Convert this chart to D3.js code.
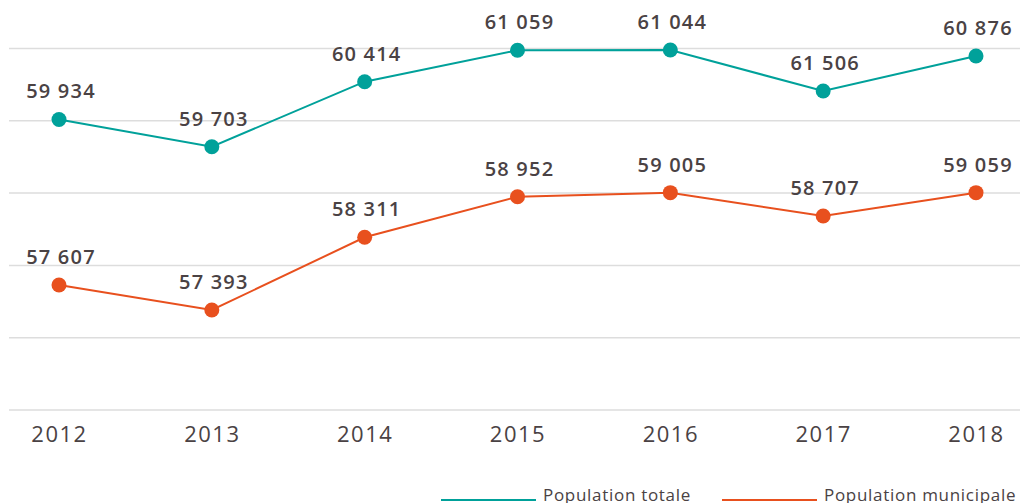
<!DOCTYPE html>
<html>
<head>
<meta charset="utf-8">
<script src="https://cdn.jsdelivr.net/npm/d3@7"></script>
<style>
  body { margin: 0; background: #fff; }
  svg { display: block; }
  text { font-family: "Open Sans", sans-serif; fill: #4a4244; }
</style>
</head>
<body>
<div id="chart"></div>
<script>
// data
var years = ["2012", "2013", "2014", "2015", "2016", "2017", "2018"];
var totalLabels = ["59 934", "59 703", "60 414", "61 059", "61 044", "61 506", "60 876"];
var municipalLabels = ["57 607", "57 393", "58 311", "58 952", "59 005", "58 707", "59 059"];
// plotted levels as drawn in the picture (grid lines every 1000)
var totalPlot = [59018, 58642, 59541, 59975, 59979, 59412, 59896];
var municipalPlot = [56729, 56383, 57389, 57950, 58006, 57683, 58006];
var gridTicks = [55000, 56000, 57000, 58000, 59000, 60000];
var seriesNames = ["Population totale", "Population municipale"];
var colors = ["#00a19a", "#e8501e"];

var width = 1025, height = 503;

var svg = d3.select("#chart")
  .append("svg")
    .attr("width", width)
    .attr("height", height);

var x = d3.scalePoint()
    .domain(years)
    .range([59, 976]);

var y = d3.scaleLinear()
    .domain([55000, 60000])
    .range([410, 48.5]);

// grid
svg.append("g")
  .selectAll("line")
  .data(gridTicks)
  .enter()
  .append("line")
    .attr("x1", 9)
    .attr("x2", 1020)
    .attr("y1", d => y(d))
    .attr("y2", d => y(d))
    .attr("stroke", "#dddddd")
    .attr("stroke-width", 1.5);

// x axis labels
var xAxis = svg.append("g")
    .attr("transform", "translate(0,410)")
    .call(d3.axisBottom(x).tickSize(0).tickPadding(16));
xAxis.select(".domain").remove();
xAxis.selectAll("text")
    .attr("font-family", "Open Sans, sans-serif")
    .attr("font-size", "22px")
    .style("letter-spacing", "1.5px")
    .attr("fill", "#4a4244");

var series = [
  {plot: totalPlot, labels: totalLabels, color: colors[0]},
  {plot: municipalPlot, labels: municipalLabels, color: colors[1]}
];

var line = d3.line()
    .x(d => x(d.year))
    .y(d => y(d.v));

series.forEach(function(s) {
  var pts = years.map((yr, i) => ({year: yr, v: s.plot[i], label: s.labels[i]}));

  svg.append("path")
    .datum(pts)
    .attr("d", line)
    .attr("fill", "none")
    .attr("stroke", s.color)
    .attr("stroke-width", 2);

  svg.append("g")
    .selectAll("circle")
    .data(pts)
    .enter()
    .append("circle")
      .attr("cx", d => x(d.year))
      .attr("cy", d => y(d.v))
      .attr("r", 7.5)
      .attr("fill", s.color);

  svg.append("g")
    .selectAll("text")
    .data(pts)
    .enter()
    .append("text")
      .attr("x", d => x(d.year) + 2)
      .attr("y", d => y(d.v) - 21)
      .attr("text-anchor", "middle")
      .attr("font-size", "20px")
      .attr("font-weight", 600)
      .style("letter-spacing", "1.2px")
      .text(d => d.label);
});

// legend
var legendX = [441, 722];
var legend = svg.append("g")
  .selectAll("g")
  .data(seriesNames)
  .enter()
  .append("g")
    .attr("transform", (d, i) => "translate(" + legendX[i] + ",500)");

legend.append("line")
    .attr("x1", 0)
    .attr("x2", 95)
    .attr("stroke", (d, i) => colors[i])
    .attr("stroke-width", 2);

legend.append("text")
    .attr("x", 102)
    .attr("y", 1)
    .attr("font-size", "17px")
    .style("letter-spacing", "0.7px")
    .text(d => d);
</script>
</body>
</html>
